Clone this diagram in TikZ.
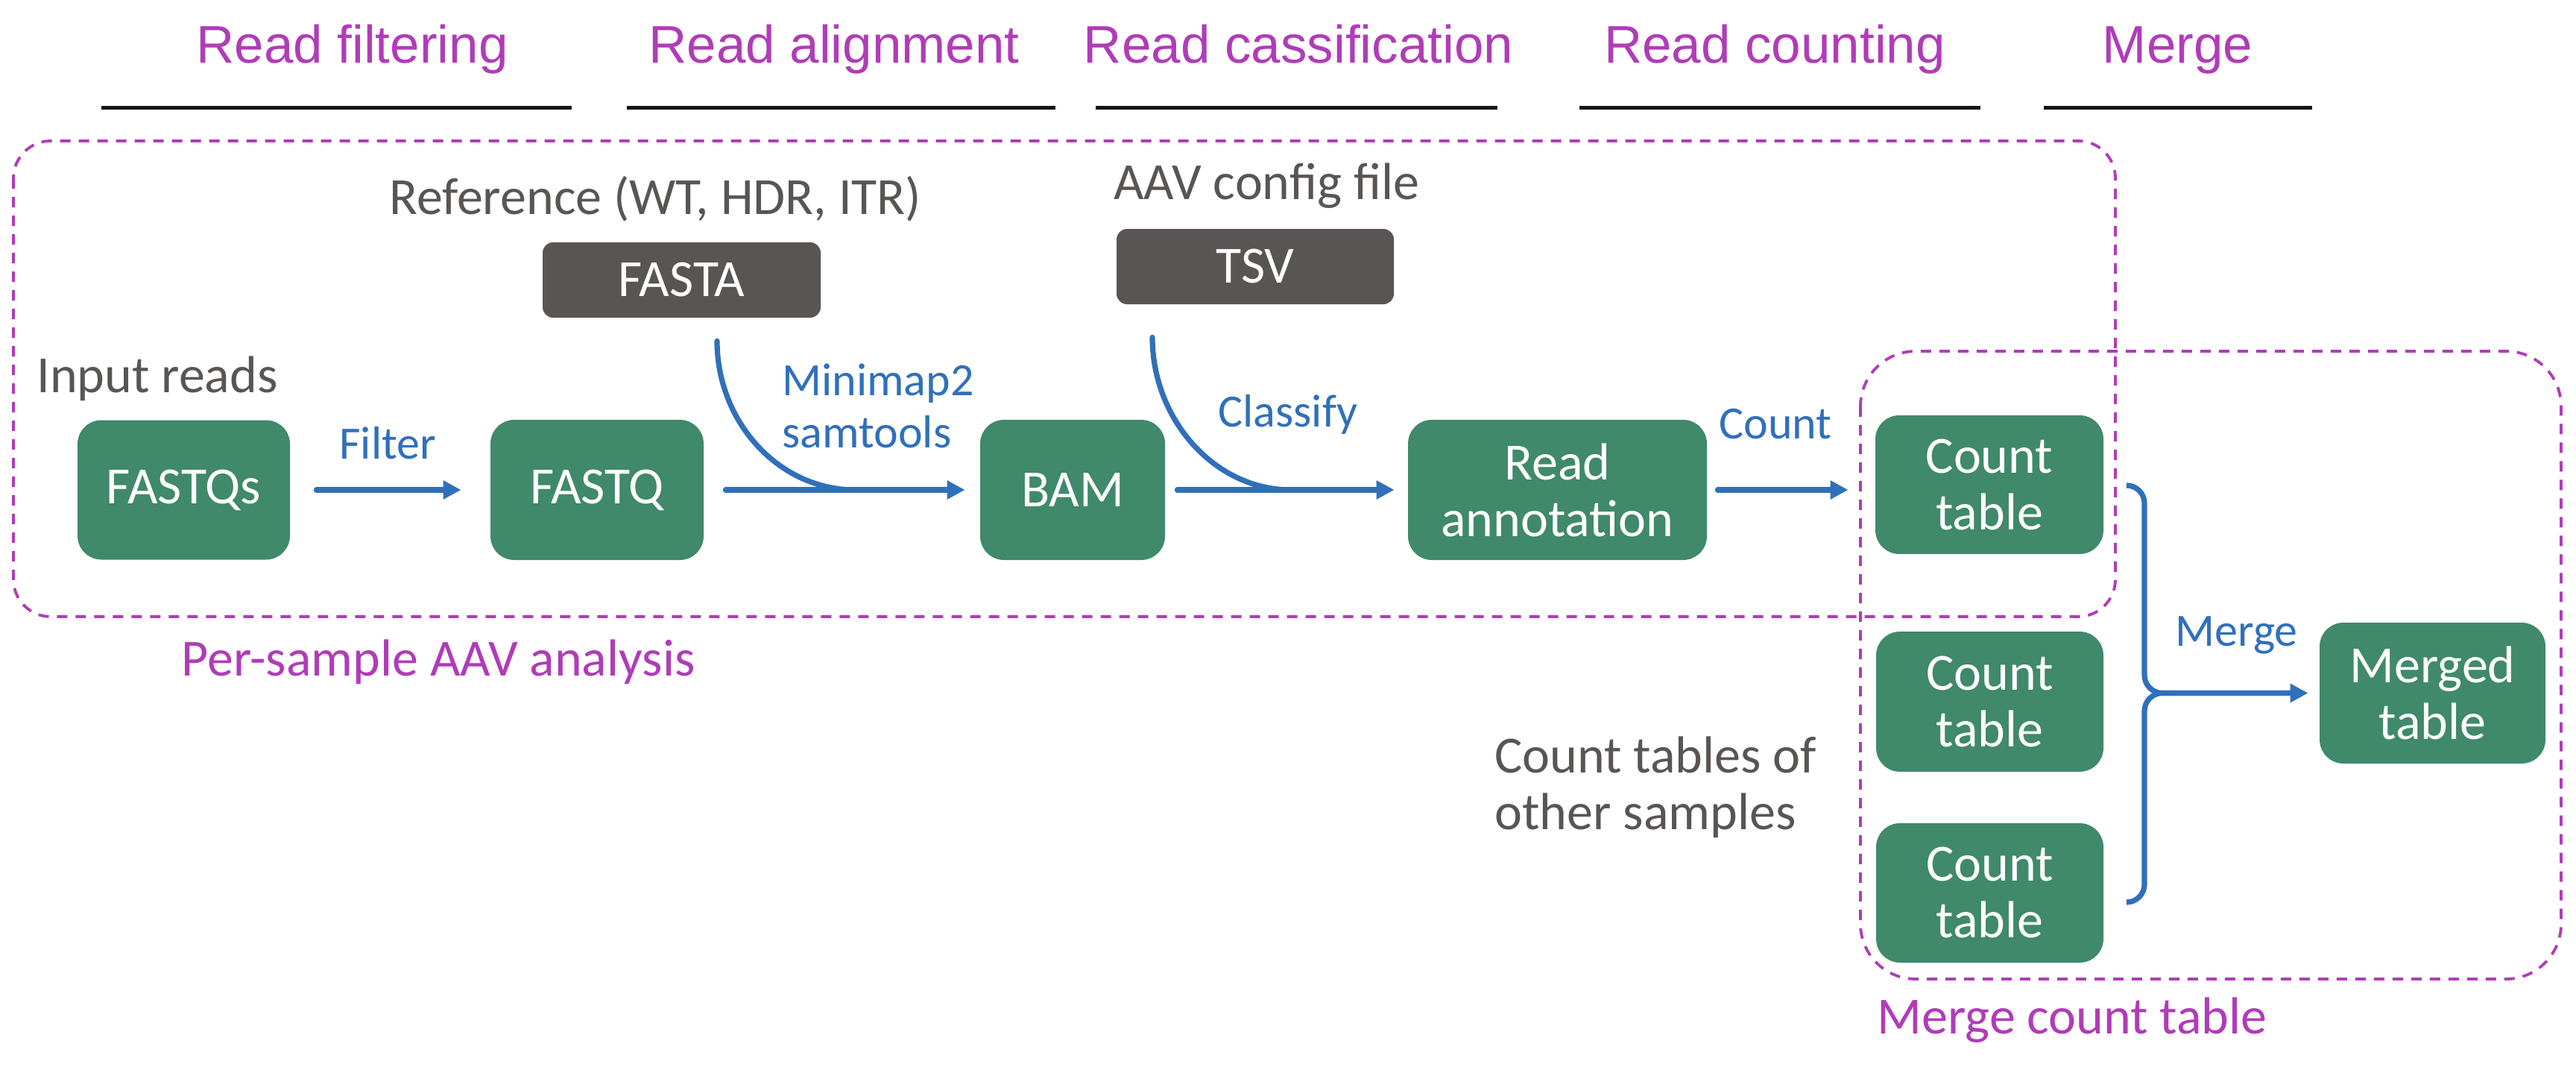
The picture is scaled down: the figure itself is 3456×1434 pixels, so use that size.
\documentclass[tikz,border=0pt]{standalone}
\usepackage{fontspec}
\setmainfont{Carlito}
\newfontfamily\hdrfont{Liberation Sans}
\usetikzlibrary{arrows.meta,calc}
\definecolor{gr}{RGB}{64,137,107}
\definecolor{dg}{RGB}{89,85,84}
\definecolor{bl}{RGB}{48,112,186}
\definecolor{pu}{RGB}{176,60,184}
\definecolor{hl}{RGB}{26,20,20}
\newcommand\bodyfont{\fontsize{35}{38}\selectfont}
\newcommand\lblfont{\fontsize{31}{35}\selectfont}
\newcommand\headfont{\hdrfont\fontsize{35.5}{40}\selectfont}
\begin{document}
\begin{tikzpicture}[x=0.5pt,y=-0.5pt,
  gbox/.style={fill=gr, rounded corners=16pt, text=white, inner sep=0pt, align=center, font=\bodyfont},
  dbox/.style={fill=dg, rounded corners=7pt, text=white, inner sep=0pt, font=\bodyfont},
  gtxt/.style={text=dg, font=\bodyfont, inner sep=0pt, anchor=base west},
  btxt/.style={text=bl, font=\lblfont, inner sep=0pt, anchor=base west},
  ptxt/.style={text=pu, font=\bodyfont, inner sep=0pt, anchor=base west},
  htxt/.style={text=pu, font=\headfont, inner sep=0pt, anchor=base},
  hline/.style={draw=hl, line width=2.4pt},
  flowline/.style={draw=bl, line width=3.6pt, line cap=round},
  flow/.style={flowline, -{Triangle[length=12pt,width=12pt]}},
  frame/.style={draw=pu, line width=1.9pt, dash pattern=on 7pt off 5.5pt},
]
\useasboundingbox (0,0) rectangle (3456,1434);

% headers
\node[htxt] (hfilt) at (472.5,85) {Read filtering};
\node[htxt] (halign) at (1119,85) {Read alignment};
\node[htxt] (hclass) at (1742,85) {Read cassification};
\node[htxt] (hcount) at (2381,85) {Read counting};
\node[htxt] (hmerge) at (2921.5,85) {Merge};
\draw[hline] (136,144.5) -- (767,144.5);
\draw[hline] (841,144.5) -- (1416,144.5);
\draw[hline] (1470,144.5) -- (2009,144.5);
\draw[hline] (2119,144.5) -- (2657,144.5);
\draw[hline] (2742,144.5) -- (3102,144.5);

% frames
\draw[frame, rounded corners=25pt] (18,189) rectangle (2838,827);
\draw[frame, rounded corners=37pt] (2496,471) rectangle (3436,1313);

% boxes
\node[gbox, minimum width=142.5pt, minimum height=93.5pt] (fastqs) at (246.5,657) {FASTQs};
\node[gbox, minimum width=143pt, minimum height=94pt] (fastq) at (801,657) {FASTQ};
\node[gbox, minimum width=124pt, minimum height=94pt] (bam) at (1439,657) {BAM};
\node[gbox, minimum width=200.5pt, minimum height=94pt] (ann) at (2089.5,657) {Read\\annotation};
\node[gbox, minimum width=153pt, minimum height=93pt] (ct1) at (2669,650) {Count\\table};
\node[gbox, minimum width=152.5pt, minimum height=94pt] (ct2) at (2669.5,941) {Count\\table};
\node[gbox, minimum width=152.5pt, minimum height=93.5pt] (ct3) at (2669.5,1197.5) {Count\\table};
\node[gbox, minimum width=151.5pt, minimum height=94.5pt] (merged) at (3263.5,929.5) {Merged\\table};
\node[dbox, minimum width=186.5pt, minimum height=50.5pt] (fasta) at (914.5,375.5) {FASTA};
\node[dbox, minimum width=186pt, minimum height=50.5pt] (tsv) at (1684,357.5) {TSV};

% texts
\node[gtxt] (ref) at (522,287) {Reference (WT, HDR, ITR)};
\node[gtxt] (aav) at (1494,267) {AAV config file};
\node[gtxt] (inp) at (49,526) {Input reads};
\node[btxt] (lf) at (455,615) {Filter};
\node[btxt] (lm1) at (1049,530) {Minimap2};
\node[btxt] (lm2) at (1049,600) {samtools};
\node[btxt] (lc) at (1634,572) {Classify};
\node[btxt] (lcn) at (2306,588) {Count};
\node[btxt] (lmg) at (2918,866) {Merge};
\node[gtxt] (ot1) at (2005,1036) {Count tables of};
\node[gtxt] (ot2) at (2005,1112) {other samples};
\node[ptxt] (ps) at (243,906) {Per-sample AAV analysis};
\node[ptxt] (mc) at (2518,1386) {Merge count table};

% main arrows
\draw[flow, shorten <=17.5pt, shorten >=19.5pt] (fastqs.east) -- (fastq.west);
\draw[flow, shorten <=14.5pt, shorten >=10pt] (fastq.east) -- (bam.west);
\draw[flow, shorten <=8pt, shorten >=9pt] (bam.east) -- (ann.west);
\draw[flow, shorten <=7pt, shorten >=18pt] (ann.east) -- (ann.east -| ct1.west);

% side inputs
\coordinate (fa0) at ($(fasta.south)+(47.5,31)$);
\coordinate (fa1) at (1147,657);
\draw[flowline] (fa0) .. controls (962,566) and (1045,657) .. (fa1);
\coordinate (ts0) at ($(tsv.south)+(-138,44)$);
\coordinate (ts1) at (1732,657);
\draw[flowline] (ts0) .. controls (1546,562) and (1629,657) .. (ts1);

% merge bracket
\coordinate (h1) at ($(ct1.east)+(31,1)$);
\coordinate (h3) at ($(ct3.east)+(31,12.5)$);
\coordinate (jn) at (2877,929.5);
\draw[flow, line cap=butt, rounded corners=12pt, shorten >=7.5pt] (h1) -| (jn) -- (merged.west);
\draw[flowline, line cap=butt, rounded corners=12pt] (h3) -| (jn) -- ++(40,0);
\end{tikzpicture}
\end{document}
